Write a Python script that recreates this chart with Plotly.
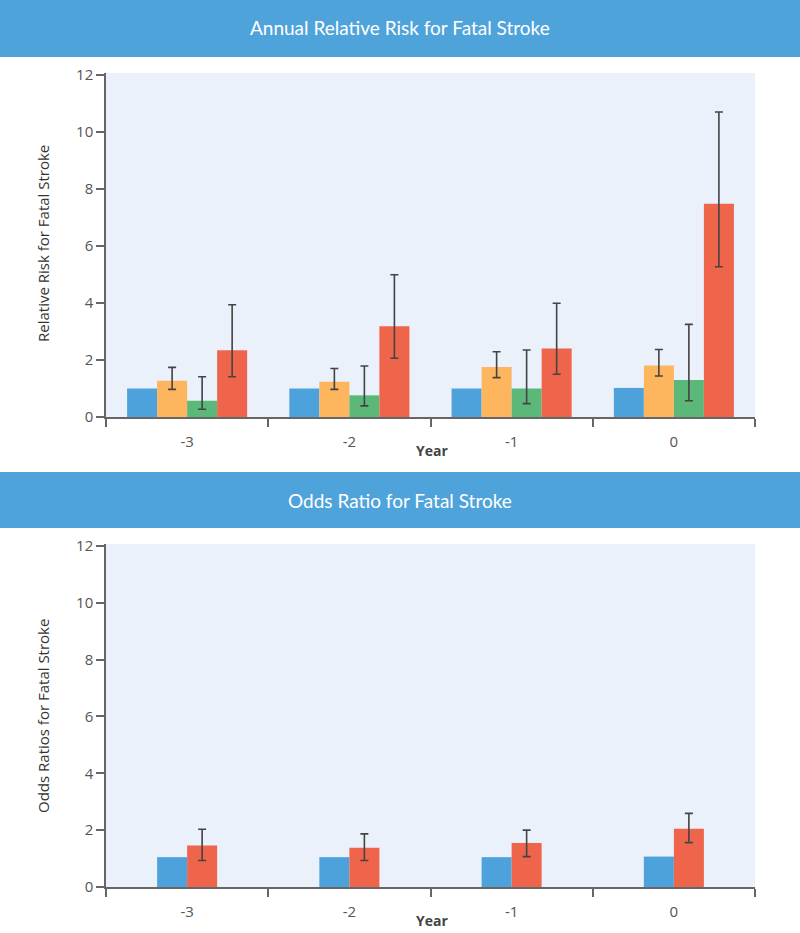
import plotly.graph_objects as go

# ---------------- data ----------------
years = ["-3", "-2", "-1", "0"]

# Annual relative risk (top panel)
rr_blue = [1.00, 1.00, 1.00, 1.02]
rr_orange = [1.27, 1.24, 1.75, 1.81]
rr_orange_hi = [1.74, 1.70, 2.29, 2.37]
rr_orange_lo = [0.97, 0.97, 1.38, 1.44]
rr_green = [0.57, 0.76, 1.00, 1.30]
rr_green_hi = [1.41, 1.79, 2.35, 3.25]
rr_green_lo = [0.27, 0.39, 0.47, 0.57]
rr_red = [2.34, 3.18, 2.40, 7.48]
rr_red_hi = [3.94, 4.99, 3.99, 10.70]
rr_red_lo = [1.41, 2.06, 1.50, 5.27]

# Odds ratio (bottom panel)
or_blue = [1.05, 1.05, 1.05, 1.07]
or_red = [1.46, 1.38, 1.55, 2.05]
or_red_hi = [2.03, 1.87, 2.00, 2.59]
or_red_lo = [0.93, 0.93, 1.07, 1.56]

y_ticks = [0, 2, 4, 6, 8, 10, 12]

# ---------------- style ----------------
C_BLUE = "#4EA2DB"
C_ORANGE = "#FDB55E"
C_GREEN = "#5BB878"
C_RED = "#EF654B"
C_BANNER = "#4FA3DB"
C_BG = "#EAF1FB"
ERR_C = "#444444"
TICK_C = "#555555"
FONT = "Open Sans"
W, H = 800, 933
BW = 0.185


def px_x(x):
    return x / W


def px_y(y):
    return 1 - y / H


def err(vals, hi, lo):
    return dict(type="data", symmetric=False,
                array=[h - v for h, v in zip(hi, vals)],
                arrayminus=[v - l for v, l in zip(vals, lo)],
                color=ERR_C, thickness=1.6, width=4)


fig = go.Figure()

# top panel
top_series = [
    ("Reference", rr_blue, None, None, C_BLUE, -2),
    ("Group 1", rr_orange, rr_orange_hi, rr_orange_lo, C_ORANGE, -1),
    ("Group 2", rr_green, rr_green_hi, rr_green_lo, C_GREEN, 0),
    ("Group 3", rr_red, rr_red_hi, rr_red_lo, C_RED, 1),
]
for name, vals, hi, lo, col, k in top_series:
    kw = {}
    if hi is not None:
        kw["error_y"] = err(vals, hi, lo)
    fig.add_trace(go.Bar(x=years, y=vals, name=name, marker_color=col,
                         marker_line_width=0, width=BW, offset=k * BW,
                         xaxis="x", yaxis="y", showlegend=False, **kw))

# bottom panel
fig.add_trace(go.Bar(x=years, y=or_blue, name="Reference", marker_color=C_BLUE,
                     marker_line_width=0, width=BW, offset=-BW,
                     xaxis="x2", yaxis="y2", showlegend=False))
fig.add_trace(go.Bar(x=years, y=or_red, name="Odds ratio", marker_color=C_RED,
                     marker_line_width=0, width=BW, offset=0,
                     error_y=err(or_red, or_red_hi, or_red_lo),
                     xaxis="x2", yaxis="y2", showlegend=False))

xdom = [px_x(106), px_x(755)]
axis_common_x = dict(type="category", showline=True, linecolor="#666666", linewidth=1.5,
                     ticks="outside", tickson="boundaries", ticklen=8, tickwidth=1.5,
                     tickcolor="#666666", showgrid=False, zeroline=False, automargin=False,
                     tickfont=dict(family=FONT, size=15, color=TICK_C),
                     ticklabelstandoff=10, domain=xdom)
axis_common_y = dict(range=[0, 12.07], tickvals=y_ticks, showline=True,
                     linecolor="#666666", linewidth=1.5, ticks="outside", ticklen=8,
                     tickwidth=1.5, tickcolor="#666666", showgrid=False, zeroline=False,
                     automargin=False,
                     tickfont=dict(family=FONT, size=15, color=TICK_C))

fig.update_layout(
    width=W, height=H,
    margin=dict(l=0, r=0, t=0, b=0, autoexpand=False),
    paper_bgcolor="white",
    plot_bgcolor=C_BG,
    barmode="group",
    showlegend=False,
    xaxis=dict(**axis_common_x, anchor="y"),
    yaxis=dict(**axis_common_y, domain=[px_y(417), px_y(73)], anchor="x"),
    xaxis2=dict(**axis_common_x, anchor="y2"),
    yaxis2=dict(**axis_common_y, domain=[px_y(887), px_y(544)], anchor="x2"),
    shapes=[
        dict(type="rect", xref="paper", yref="paper", x0=0, x1=1,
             y0=px_y(57), y1=1, fillcolor=C_BANNER, line_width=0, layer="below"),
        dict(type="rect", xref="paper", yref="paper", x0=0, x1=1,
             y0=px_y(528), y1=px_y(472), fillcolor=C_BANNER, line_width=0, layer="below"),
    ],
    annotations=[
        dict(text="Annual Relative Risk for Fatal Stroke", xref="paper", yref="paper",
             x=0.5, y=px_y(28), showarrow=False, xanchor="center", yanchor="middle",
             font=dict(family="Lato", size=19, color="white")),
        dict(text="Odds Ratio for Fatal Stroke", xref="paper", yref="paper",
             x=0.5, y=px_y(500), showarrow=False, xanchor="center", yanchor="middle",
             font=dict(family="Lato", size=19, color="white")),
        dict(text="Relative Risk for Fatal Stroke", xref="paper", yref="paper",
             x=px_x(43), y=px_y(244), showarrow=False, textangle=-90,
             xanchor="center", yanchor="middle",
             font=dict(family=FONT, size=15, color="#333333")),
        dict(text="Odds Ratios for Fatal Stroke", xref="paper", yref="paper",
             x=px_x(43), y=px_y(716), showarrow=False, textangle=-90,
             xanchor="center", yanchor="middle",
             font=dict(family=FONT, size=15, color="#333333")),
        dict(text="<b>Year</b>", xref="paper", yref="paper",
             x=px_x(432), y=px_y(450), showarrow=False, xanchor="center", yanchor="middle",
             font=dict(family=FONT, size=14, color="#444444")),
        dict(text="<b>Year</b>", xref="paper", yref="paper",
             x=px_x(432), y=px_y(920), showarrow=False, xanchor="center", yanchor="middle",
             font=dict(family=FONT, size=14, color="#444444")),
    ],
)

fig.write_html("out.html", config={"displayModeBar": False},
               post_script="document.body.style.margin='0';")
